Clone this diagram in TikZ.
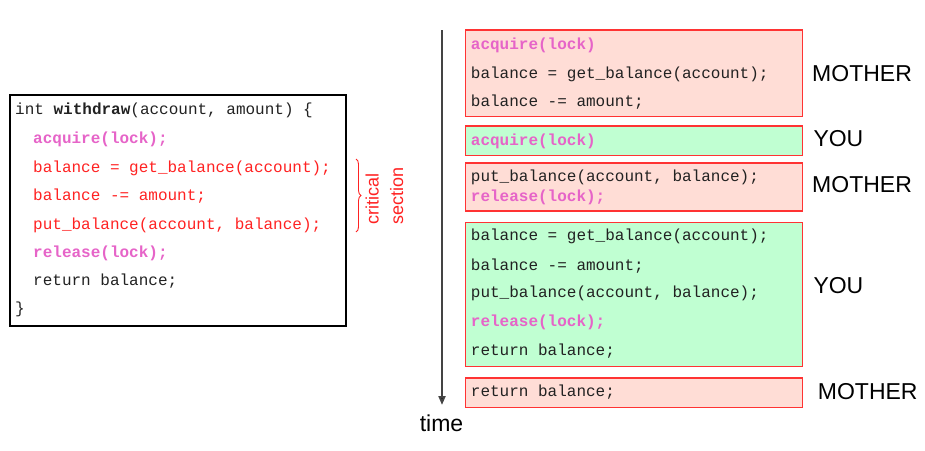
\documentclass[tikz,border=0pt]{standalone}
\usepackage{fontspec}
\setmainfont{Liberation Sans}
\newfontfamily\codefont{Liberation Mono}
\usetikzlibrary{arrows.meta,decorations.pathreplacing}
\definecolor{boxred}{HTML}{FF3333}
\definecolor{pinkfill}{HTML}{FFDDD6}
\definecolor{greenfill}{HTML}{C0FFD2}
\definecolor{lockmag}{HTML}{E664C8}
\definecolor{codered}{HTML}{FF2222}
\definecolor{codeblack}{HTML}{222222}
\definecolor{axisgray}{HTML}{444444}
\tikzset{
  code/.style={font=\codefont\fontsize{16}{18}\selectfont, anchor=base west, inner sep=0pt, text=codeblack},
  redcode/.style={code, text=codered},
  lockcode/.style={code, text=lockmag, font=\codefont\bfseries\fontsize{16}{18}\selectfont},
  who/.style={font=\fontsize{23}{26}\selectfont, anchor=base west, inner sep=0pt},
  crittext/.style={text=codered, font=\fontsize{18}{20}\selectfont, rotate=90, anchor=base west, inner sep=0pt},
  pinkbox/.style={draw=boxred, fill=pinkfill, line width=1.4pt, inner sep=0pt},
  greenbox/.style={draw=boxred, fill=greenfill, line width=1.4pt, inner sep=0pt},
}
\begin{document}
\begin{tikzpicture}[x=1pt,y=-1pt]
\useasboundingbox (0,0) rectangle (925,450);
% left code box
\node[draw=black, line width=1.2pt, minimum width=336pt, minimum height=231pt, inner sep=0pt] (lbox) at (178,210.5) {};
\node[code] (l1) at (15,114.3) {int \textbf{withdraw}(account, amount) \{};
\node[lockcode] (l2) at (33,143.3) {acquire(lock);};
\node[redcode] (l3) at (33,172.7) {balance = get\_balance(account);};
\node[redcode] (l4) at (33,200.7) {balance -= amount;};
\node[redcode] (l5) at (33,229.3) {put\_balance(account, balance);};
\node[lockcode] (l6) at (33,257.3) {release(lock);};
\node[code] (l7) at (33,285.7) {return balance;};
\node[code] (l8) at (15,313.3) {\}};
% brace
\coordinate (bt) at (356,159);
\coordinate (bb) at (356,232);
\draw[codered, line width=0.9pt, decorate, decoration={brace, amplitude=5pt}] (bt) -- (bb);
\node[crittext] (crit) at (378.5,225) {critical};
\node[crittext] (sect) at (403,225) {section};
% time arrow
\coordinate (t0) at (442,30);
\coordinate (t1) at (442,405);
\draw[line width=2pt, draw=axisgray, -{Triangle[length=9pt,width=7pt,fill=black]}] (t0) -- (t1);
\node[who, anchor=base] (time) at (441.5,431.7) {time};
% right boxes
\node[pinkbox, minimum width=336.6pt, minimum height=86.7pt] (b1) at (634,73.35) {};
\node[lockcode] (r11) at (470.7,49.3) {acquire(lock)};
\node[code] (r12) at (470.7,78.3) {balance = get\_balance(account);};
\node[code] (r13) at (470.7,106) {balance -= amount;};
\node[who] (w1) at (812,81) {MOTHER};

\node[greenbox, minimum width=336.6pt, minimum height=29.7pt] (b2) at (634,140.85) {};
\node[lockcode] (r21) at (470.7,145) {acquire(lock)};
\node[who] (w2) at (813.3,146.7) {YOU};

\node[pinkbox, minimum width=336.6pt, minimum height=48pt] (b3) at (634,187) {};
\node[code] (r31) at (470.7,181.7) {put\_balance(account, balance);};
\node[lockcode] (r32) at (470.7,201) {release(lock);};
\node[who] (w3) at (812,192.7) {MOTHER};

\node[greenbox, minimum width=336.6pt, minimum height=144.4pt] (b4) at (634,294.5) {};
\node[code] (r41) at (470.7,240.7) {balance = get\_balance(account);};
\node[code] (r42) at (470.7,270) {balance -= amount;};
\node[code] (r43) at (470.7,297.7) {put\_balance(account, balance);};
\node[lockcode] (r44) at (470.7,326.7) {release(lock);};
\node[code] (r45) at (470.7,355.7) {return balance;};
\node[who] (w4) at (813.3,293.3) {YOU};

\node[pinkbox, minimum width=336.6pt, minimum height=29.7pt] (b5) at (634,392.85) {};
\node[code] (r51) at (470.7,396.7) {return balance;};
\node[who] (w5) at (817.7,399.3) {MOTHER};
\end{tikzpicture}
\end{document}
